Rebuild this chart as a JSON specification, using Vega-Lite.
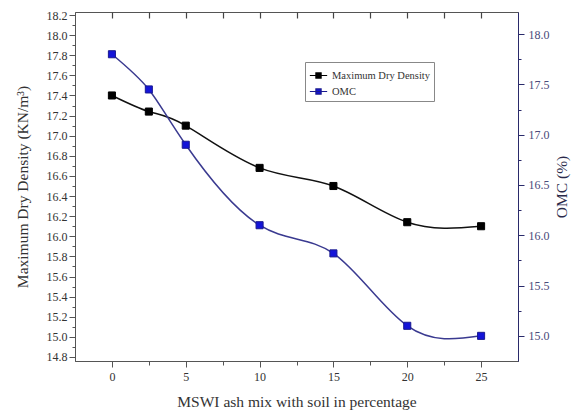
{
  "$schema": "https://vega.github.io/schema/vega-lite/v6.json",
  "width": 443,
  "height": 349,
  "autosize": {"type": "none"},
  "padding": {"left": 75, "top": 12, "right": 54, "bottom": 58},
  "background": "white",
  "config": {
    "view": {"stroke": "#555", "strokeWidth": 1},
    "font": "Times New Roman, Liberation Serif, DejaVu Serif, serif",
    "axis": {"grid": false, "labelFont": "Times New Roman, Liberation Serif, DejaVu Serif, serif", "titleFont": "Times New Roman, Liberation Serif, DejaVu Serif, serif", "labelFontSize": 12, "titleFontSize": 15.5, "titleFontWeight": "normal", "labelColor": "#333", "titleColor": "#333", "domainColor": "#555", "tickColor": "#555"},
    "legend": {"labelFont": "Times New Roman, Liberation Serif, DejaVu Serif, serif"}
  },
  "data": {"values": [
    {"x": 0, "series": "Maximum Dry Density", "v": 17.4},
    {"x": 2.5, "series": "Maximum Dry Density", "v": 17.24},
    {"x": 5, "series": "Maximum Dry Density", "v": 17.1},
    {"x": 10, "series": "Maximum Dry Density", "v": 16.68},
    {"x": 15, "series": "Maximum Dry Density", "v": 16.5},
    {"x": 20, "series": "Maximum Dry Density", "v": 16.14},
    {"x": 25, "series": "Maximum Dry Density", "v": 16.1},
    {"x": 0, "series": "OMC", "v": 17.8},
    {"x": 2.5, "series": "OMC", "v": 17.45},
    {"x": 5, "series": "OMC", "v": 16.9},
    {"x": 10, "series": "OMC", "v": 16.1},
    {"x": 15, "series": "OMC", "v": 15.82},
    {"x": 20, "series": "OMC", "v": 15.1},
    {"x": 25, "series": "OMC", "v": 15.0}
  ]},
  "layer": [
    {
      "transform": [{"filter": "datum.series == 'Maximum Dry Density'"}],
      "encoding": {
        "x": {"field": "x", "type": "quantitative", "scale": {"domain": [-2.5, 27.5], "nice": false, "zero": false},
          "axis": {"orient": "bottom", "title": "MSWI ash mix with soil in percentage", "values": [0, 2.5, 5, 7.5, 10, 12.5, 15, 17.5, 20, 22.5, 25],
            "labelExpr": "datum.value % 5 == 0 ? format(datum.value, 'd') : ''", "tickSize": {"condition": {"test": "datum.value % 5 == 0", "value": 6}, "value": 4}, "labelPadding": 4, "titlePadding": 12}},
        "y": {"field": "v", "type": "quantitative", "scale": {"domain": [14.76, 18.23], "nice": false, "zero": false},
          "axis": {"orient": "left", "title": "Maximum Dry Density (KN/m³)", "values": [14.8, 14.9, 15.0, 15.1, 15.2, 15.3, 15.4, 15.5, 15.6, 15.7, 15.8, 15.9, 16.0, 16.1, 16.2, 16.3, 16.4, 16.5, 16.6, 16.7, 16.8, 16.9, 17.0, 17.1, 17.2, 17.3, 17.4, 17.5, 17.6, 17.7, 17.8, 17.9, 18.0, 18.1, 18.2],
            "labelExpr": "round(datum.value*10) % 2 == 0 ? format(datum.value, '.1f') : ''", "tickSize": {"condition": {"test": "round(datum.value*10) % 2 == 0", "value": 6}, "value": 3}, "labelPadding": 2, "titlePadding": 16}}
      },
      "layer": [
        {"mark": {"type": "line", "interpolate": "natural", "color": "#111", "strokeWidth": 1.5}},
        {"mark": {"type": "point", "shape": "square", "filled": true, "size": 50, "opacity": 1, "strokeWidth": 1},
          "encoding": {
            "fill": {"field": "series", "type": "nominal", "scale": {"domain": ["Maximum Dry Density", "OMC"], "range": ["#000000", "#1414d8"]},
              "legend": {"title": null, "orient": "none", "legendX": 230, "legendY": 50, "fillColor": "white", "strokeColor": "#888", "padding": 4, "rowPadding": 1,
                "labelFontSize": 10.5, "labelColor": "#333",
                "symbolType": "M-1,0H1M-0.3,-0.3H0.3V0.3H-0.3Z", "symbolSize": 300, "symbolStrokeWidth": 1.2, "symbolOpacity": 1}},
            "stroke": {"field": "series", "type": "nominal", "scale": {"domain": ["Maximum Dry Density", "OMC"], "range": ["#000000", "#1a1a90"]},
              "legend": {"title": null, "orient": "none", "legendX": 230, "legendY": 50, "fillColor": "white", "strokeColor": "#888", "padding": 4, "rowPadding": 1,
                "labelFontSize": 10.5, "labelColor": "#333",
                "symbolType": "M-1,0H1M-0.3,-0.3H0.3V0.3H-0.3Z", "symbolSize": 300, "symbolStrokeWidth": 1.2, "symbolOpacity": 1}}
          }}
      ]
    },
    {
      "transform": [{"filter": "datum.series == 'OMC'"}],
      "encoding": {
        "x": {"field": "x", "type": "quantitative", "scale": {"domain": [-2.5, 27.5], "nice": false, "zero": false},
          "axis": {"orient": "top", "title": "", "values": [0, 2.5, 5, 7.5, 10, 12.5, 15, 17.5, 20, 22.5, 25], "labels": true, "labelOpacity": 0, "domain": false, "ticks": true, "tickSize": 6, "tickWidth": 1.2, "tickColor": "#444", "offset": -6, "labelExpr": "''"}},
        "y": {"field": "v", "type": "quantitative", "scale": {"domain": [14.75, 18.22], "nice": false, "zero": false},
          "axis": {"orient": "right", "title": "OMC (%)", "titleAngle": 270, "titleBaseline": "bottom", "values": [15.0, 15.25, 15.5, 15.75, 16.0, 16.25, 16.5, 16.75, 17.0, 17.25, 17.5, 17.75, 18.0],
            "labelExpr": "(datum.value*2) % 1 == 0 ? format(datum.value, '.1f') : ''", "tickSize": {"condition": {"test": "(datum.value*2) % 1 == 0", "value": 6}, "value": 3},
            "domainColor": "#2a2a6a", "tickColor": "#2a2a6a", "labelColor": "#4a4a7a", "titleColor": "#2a2a4a", "labelPadding": 4, "titlePadding": 20}}
      },
      "layer": [
        {"mark": {"type": "line", "interpolate": "natural", "color": "#3a3a90", "strokeWidth": 1.5}},
        {"mark": {"type": "point", "shape": "square", "filled": true, "size": 50, "opacity": 1, "strokeWidth": 1},
          "encoding": {"fill": {"field": "series", "type": "nominal"}, "stroke": {"field": "series", "type": "nominal"}}}
      ]
    }
  ],
  "resolve": {"scale": {"y": "independent", "x": "independent"}, "axis": {"x": "independent", "y": "independent"}}
}
